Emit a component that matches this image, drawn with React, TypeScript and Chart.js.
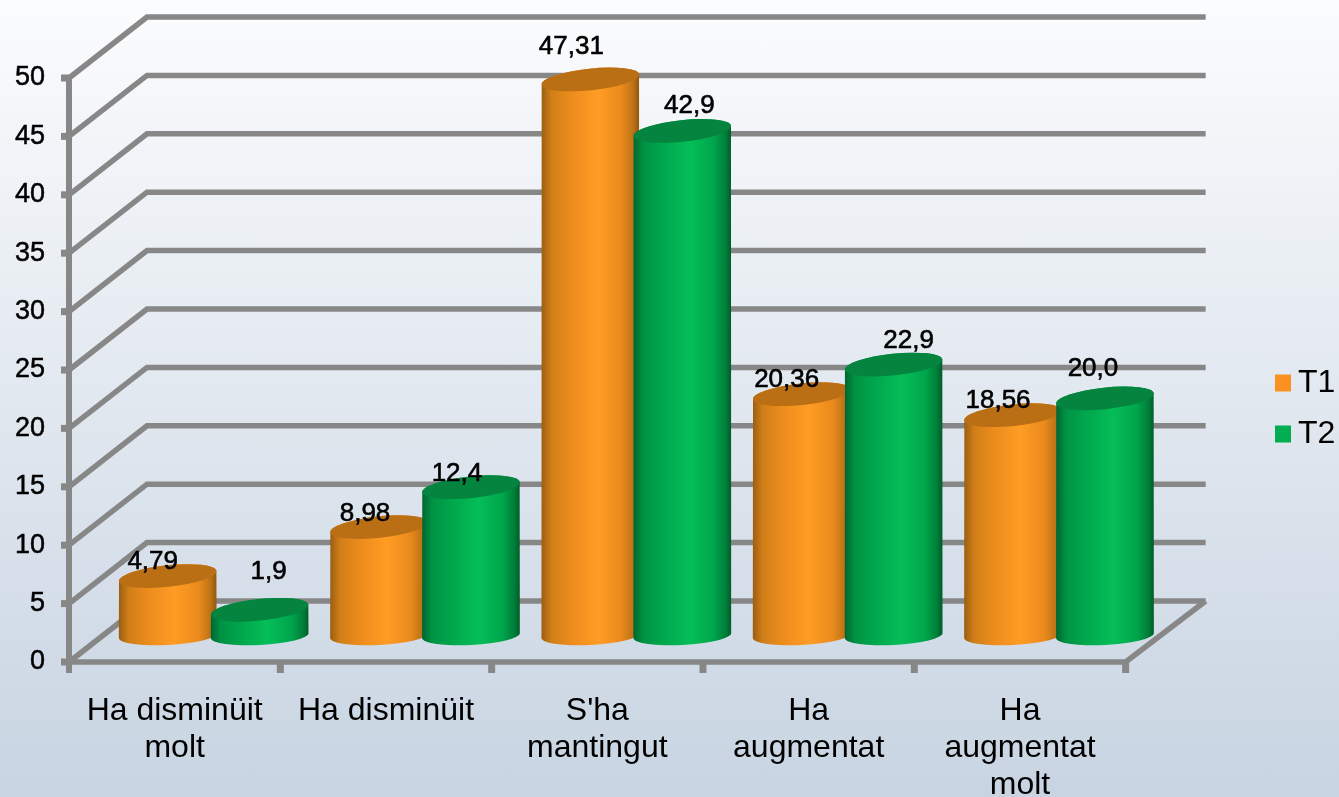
import React, { useEffect, useRef } from "react";
import Chart, { BarController, BarElement } from "chart.js/auto";

const categories = [
  ["Ha disminüit", "molt"],
  ["Ha disminüit"],
  ["S'ha", "mantingut"],
  ["Ha", "augmentat"],
  ["Ha", "augmentat", "molt"],
];
const t1Values = [4.79, 8.98, 47.31, 20.36, 18.56];
const t2Values = [1.9, 12.4, 42.9, 22.9, 20.0];
const t1Labels = ["4,79", "8,98", "47,31", "20,36", "18,56"];
const t2Labels = ["1,9", "12,4", "42,9", "22,9", "20,0"];
const t1LabelNudge = [[-15, -14], [-14, -13], [-19, -33], [-15, -14], [-15, -14]];
const t2LabelNudge = [[9, -38], [-14, -13], [7, -25], [15, -24], [-12, -30]];

const FONT = "'Liberation Sans', Arial, sans-serif";
const DEPTH_X = 78;
const DEPTH_Y = -61;
const BAR_DX = 39;
const BAR_DY = -30;
const TILT_TOP = (-6 * Math.PI) / 180;
const TILT_BOTTOM = (-3 * Math.PI) / 180;
const RY_TOP = 10.8;
const RY_BOTTOM = 9.5;
const LINE = "#878787";

const SHADES: Record<string, { stops: [number, string][]; cap: string }> = {
  "#FB9120": {
    cap: "#BB6F15",
    stops: [
      [0, "#9A5E12"],
      [0.1, "#D07E18"],
      [0.3, "#EC8C1D"],
      [0.58, "#FF9C24"],
      [0.82, "#E98A1C"],
      [0.94, "#BC7216"],
      [1, "#8E5610"],
    ],
  },
  "#00AD50": {
    cap: "#04843E",
    stops: [
      [0, "#00642F"],
      [0.1, "#009243"],
      [0.3, "#00A64C"],
      [0.58, "#05BE58"],
      [0.82, "#00A64C"],
      [0.94, "#007F3A"],
      [1, "#005C2A"],
    ],
  },
};

class CylinderBar extends BarElement {
  static id = "cylinderBar";
  draw(ctx: CanvasRenderingContext2D) {
    const { x, y, base, width } = (this as any).getProps(["x", "y", "base", "width"]);
    const fill = (this as any).options.backgroundColor as string;
    const shade = SHADES[fill];
    const cx = x + BAR_DX;
    const ty = y + BAR_DY;
    const by = base + BAR_DY + 3.5;
    const rx = width / 2;
    const grad = ctx.createLinearGradient(cx - rx, 0, cx + rx, 0);
    shade.stops.forEach(([o, c]) => grad.addColorStop(o, c));
    ctx.save();
    ctx.beginPath();
    ctx.ellipse(cx, by, rx, RY_BOTTOM, TILT_BOTTOM, Math.PI, 0, true);
    ctx.ellipse(cx, ty, rx, RY_TOP, TILT_TOP, 0, Math.PI, true);
    ctx.closePath();
    ctx.fillStyle = grad;
    ctx.fill();
    ctx.beginPath();
    ctx.ellipse(cx, ty, rx, RY_TOP, TILT_TOP, 0, Math.PI * 2);
    ctx.fillStyle = shade.cap;
    ctx.fill();
    ctx.restore();
  }
}

class CylinderController extends BarController {
  static id = "cylinder";
  static defaults = { ...BarController.defaults, dataElementType: "cylinderBar" };
}

Chart.register(CylinderBar, CylinderController);

const wallsPlugin = {
  id: "walls",
  beforeDatasetsDraw(chart: any) {
    const { ctx, scales } = chart;
    const { x: xs, y: ys } = scales;
    const left = xs.left;
    const right = xs.right;
    const backRight = right + DEPTH_X + 2;
    const y0 = ys.getPixelForValue(0);
    ctx.save();
    ctx.strokeStyle = LINE;
    ctx.lineCap = "butt";
    ctx.lineJoin = "miter";
    ctx.lineWidth = 6;
    ctx.beginPath();
    ctx.moveTo(left, ys.getPixelForValue(50) - 3);
    ctx.lineTo(left, y0 + 11);
    ctx.stroke();
    ys.ticks.forEach((t: any) => {
      const py = ys.getPixelForValue(t.value);
      ctx.lineWidth = 7;
      ctx.beginPath();
      ctx.moveTo(left - 8, py);
      ctx.lineTo(left, py);
      ctx.stroke();
      ctx.lineWidth = 5.5;
      ctx.beginPath();
      ctx.moveTo(left, py);
      ctx.lineTo(left + DEPTH_X, py + DEPTH_Y);
      ctx.lineTo(backRight, py + DEPTH_Y);
      ctx.stroke();
    });
    ctx.lineWidth = 5.5;
    ctx.beginPath();
    ctx.moveTo(left, y0);
    ctx.lineTo(right, y0);
    ctx.lineTo(backRight, y0 + DEPTH_Y);
    ctx.stroke();
    ctx.lineWidth = 7;
    for (let i = 1; i <= categories.length; i++) {
      const px = left + ((right - left) * i) / categories.length;
      ctx.beginPath();
      ctx.moveTo(px, y0);
      ctx.lineTo(px, y0 + 11);
      ctx.stroke();
    }
    ctx.restore();
  },
  beforeDatasetDraw(_chart: any, args: any) {
    if (args.index === 1) return false;
  },
  afterDatasetsDraw(chart: any) {
    const { ctx } = chart;
    chart.getDatasetMeta(1).controller.draw();
    ctx.save();
    ctx.font = `26px ${FONT}`;
    ctx.fillStyle = "#000";
    ctx.strokeStyle = "#000";
    ctx.lineWidth = 0.6;
    ctx.textAlign = "center";
    ctx.textBaseline = "middle";
    const sets: [number, string[], number[][]][] = [
      [0, t1Labels, t1LabelNudge],
      [1, t2Labels, t2LabelNudge],
    ];
    sets.forEach(([idx, labels, nudge]) => {
      chart.getDatasetMeta(idx).data.forEach((el: any, i: number) => {
        const lx = el.x + BAR_DX + nudge[i][0];
        const ly = el.y + BAR_DY + nudge[i][1];
        ctx.fillText(labels[i], lx, ly);
        ctx.strokeText(labels[i], lx, ly);
      });
    });
    ctx.restore();
  },
  afterLayout(chart: any) {
    const lg = chart.legend;
    const w = lg.right - lg.left;
    const h = lg.bottom - lg.top;
    lg.left = 1263;
    lg.right = lg.left + w;
    lg.top = 408.5 - h / 2;
    lg.bottom = lg.top + h;
  },
  afterDraw(chart: any) {
    const { ctx } = chart;
    const lg = chart.legend;
    const sx = lg.left + lg.options.labels.padding + 16 - 7 - 16;
    const cy = (lg.top + lg.bottom) / 2;
    lg.legendItems.forEach((item: any, i: number) => {
      ctx.fillStyle = item.fillStyle;
      ctx.fillRect(sx, cy + (i - 0.5) * 51 - 8.5, 16, 17);
    });
  },
};

export default function App() {
  const ref = useRef<HTMLCanvasElement>(null);
  useEffect(() => {
    document.body.style.margin = "0";
    const chart = new Chart(ref.current as HTMLCanvasElement, {
      type: "cylinder" as any,
      data: {
        labels: categories,
        datasets: [
          { label: "T1", data: t1Values, backgroundColor: "#FB9120", clip: false },
          { label: "T2", data: t2Values, backgroundColor: "#00AD50", clip: false },
        ],
      },
      plugins: [wallsPlugin],
      options: {
        responsive: false,
        animation: false,
        categoryPercentage: 0.87,
        barPercentage: 1.065,
        layout: { padding: { top: 78, left: 0, bottom: 0, right: 131 } },
        scales: {
          x: {
            type: "category",
            offset: true,
            grid: { display: false },
            border: { display: false },
            afterFit(s: any) {
              s.height = 135;
            },
            ticks: {
              color: "#000",
              font: { size: 32, family: FONT, lineHeight: 1.156 },
              padding: 23,
              maxRotation: 0,
              minRotation: 0,
              autoSkip: false,
            },
          },
          y: {
            type: "linear",
            min: 0,
            max: 50,
            grid: { display: false },
            border: { display: false },
            afterFit(s: any) {
              s.width = 69;
            },
            ticks: {
              stepSize: 5,
              color: "#000",
              font: { size: 27, family: FONT },
              padding: 16,
              textStrokeColor: "#000",
              textStrokeWidth: 0.5,
            },
          },
        },
        plugins: {
          tooltip: { enabled: false },
          legend: {
            position: "right",
            labels: {
              boxWidth: 0,
              boxHeight: 16,
              padding: 19,
              color: "#000",
              font: { size: 32, family: FONT },
            },
          },
        },
      } as any,
    });
    return () => chart.destroy();
  }, []);
  return (
    <div
      style={{
        position: "absolute",
        left: 0,
        top: 0,
        width: 1339,
        height: 797,
        overflow: "hidden",
        background: "linear-gradient(180deg, #FBFCFD 0%, #C8D4E2 100%)",
      }}
    >
      <canvas
        ref={ref}
        width={1339}
        height={797}
        style={{ display: "block", filter: "blur(0.3px)" }}
      />
    </div>
  );
}
